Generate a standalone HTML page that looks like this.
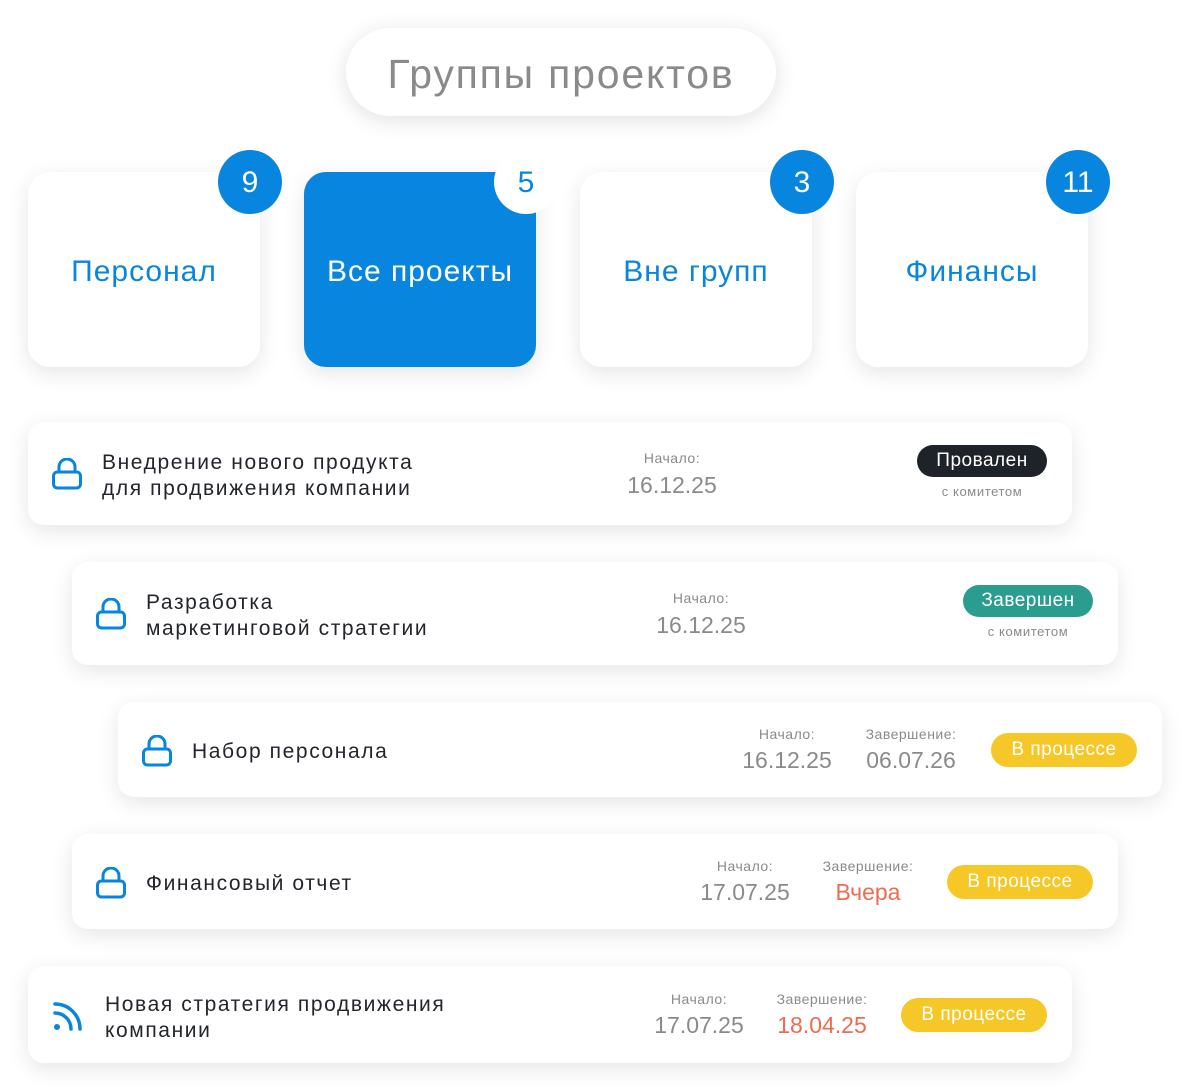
<!DOCTYPE html>
<html><head><meta charset="utf-8"><style>
*{margin:0;padding:0;box-sizing:border-box}
body{width:1184px;height:1087px;background:#fff;position:relative;overflow:hidden;font-family:"Liberation Sans","DejaVu Sans",sans-serif}
.a{position:absolute}
.pill{left:346px;top:28px;width:430px;height:88px;border-radius:44px;background:#fff;box-shadow:0 4px 22px rgba(0,0,0,.12);color:#8a8a8a;font-size:41px;letter-spacing:1.8px;text-align:center;line-height:92px}
.card{width:232px;height:195px;top:172px;border-radius:22px;background:#fff;box-shadow:0 6px 22px rgba(0,0,0,.10);color:#0785df;font-size:30px;letter-spacing:1px;text-align:center;line-height:200px}
.badge{width:64px;height:64px;border-radius:32px;background:#0785df;color:#fff;font-size:30px;text-align:center;line-height:66px;top:150px}
.row{background:#fff;border-radius:16px;box-shadow:0 6px 22px rgba(0,0,0,.10)}
.t{color:#22252b;font-size:21px;line-height:26px;letter-spacing:1.6px}
.lab{color:#8a8a8a;font-size:14px;text-align:center;width:120px;letter-spacing:.5px}
.dt{color:#8a8a8a;font-size:23px;text-align:center;width:130px}
.red{color:#ee6b50}
.st{border-radius:17px;color:#fff;font-size:19px;text-align:center;letter-spacing:.5px}
.sm{color:#8a8a8a;font-size:13px;text-align:center;width:140px;letter-spacing:.6px}
</style></head><body>
<div class="a pill">Группы проектов</div>

<div class="a card" style="left:28px">Персонал</div>
<div class="a card" style="left:304px;background:#0785df;color:#fff">Все проекты</div>
<div class="a card" style="left:580px">Вне групп</div>
<div class="a card" style="left:856px">Финансы</div>
<div class="a badge" style="left:218px">9</div>
<div class="a badge" style="left:494px;background:#fff;color:#0785df">5</div>
<div class="a badge" style="left:770px">3</div>
<div class="a badge" style="left:1046px">11</div>

<svg width="0" height="0" style="position:absolute"><defs>
<g id="lock"><path d="M7 14V9a8 8 0 0 1 16 0v5" fill="none" stroke="#0785df" stroke-width="3"/><rect x="1.5" y="14" width="27" height="16" rx="4" fill="none" stroke="#0785df" stroke-width="3"/></g>
</defs></svg>

<!-- row 1 -->
<div class="a row" style="left:28px;top:422px;width:1044px;height:103px"></div>
<svg class="a" style="left:52px;top:458px" width="32" height="33"><use href="#lock"/></svg>
<div class="a t" style="left:102px;top:450px">Внедрение нового продукта<br>для продвижения компании</div>
<div class="a lab" style="left:612px;top:450px">Начало:</div>
<div class="a dt" style="left:607px;top:472px">16.12.25</div>
<div class="a st" style="left:917px;top:445px;width:130px;height:32px;line-height:32px;background:#1e2229">Провален</div>
<div class="a sm" style="left:912px;top:484px">с комитетом</div>

<!-- row 2 -->
<div class="a row" style="left:72px;top:562px;width:1046px;height:103px"></div>
<svg class="a" style="left:96px;top:598px" width="32" height="33"><use href="#lock"/></svg>
<div class="a t" style="left:146px;top:590px">Разработка<br>маркетинговой стратегии</div>
<div class="a lab" style="left:641px;top:590px">Начало:</div>
<div class="a dt" style="left:636px;top:612px">16.12.25</div>
<div class="a st" style="left:963px;top:585px;width:130px;height:32px;line-height:32px;background:#2a9d8f">Завершен</div>
<div class="a sm" style="left:958px;top:624px">с комитетом</div>

<!-- row 3 -->
<div class="a row" style="left:118px;top:702px;width:1044px;height:95px"></div>
<svg class="a" style="left:142px;top:735px" width="32" height="33"><use href="#lock"/></svg>
<div class="a t" style="left:192px;top:739px">Набор персонала</div>
<div class="a lab" style="left:727px;top:726px">Начало:</div>
<div class="a dt" style="left:722px;top:747px">16.12.25</div>
<div class="a lab" style="left:851px;top:726px">Завершение:</div>
<div class="a dt" style="left:846px;top:747px">06.07.26</div>
<div class="a st" style="left:991px;top:733px;width:146px;height:34px;line-height:34px;background:#f5c827">В процессе</div>

<!-- row 4 -->
<div class="a row" style="left:72px;top:834px;width:1046px;height:95px"></div>
<svg class="a" style="left:96px;top:867px" width="32" height="33"><use href="#lock"/></svg>
<div class="a t" style="left:146px;top:871px">Финансовый отчет</div>
<div class="a lab" style="left:685px;top:858px">Начало:</div>
<div class="a dt" style="left:680px;top:879px">17.07.25</div>
<div class="a lab" style="left:808px;top:858px">Завершение:</div>
<div class="a dt red" style="left:803px;top:879px">Вчера</div>
<div class="a st" style="left:947px;top:865px;width:146px;height:34px;line-height:34px;background:#f5c827">В процессе</div>

<!-- row 5 -->
<div class="a row" style="left:28px;top:966px;width:1044px;height:97px"></div>
<svg class="a" style="left:50px;top:998px" width="36" height="36"><path d="M5 6a25 25 0 0 1 25 25" fill="none" stroke="#0785df" stroke-width="3.5" stroke-linecap="round"/><path d="M5 15a16 16 0 0 1 16 16" fill="none" stroke="#0785df" stroke-width="3.5" stroke-linecap="round"/><circle cx="7" cy="29" r="3" fill="#0785df"/></svg>
<div class="a t" style="left:105px;top:992px">Новая стратегия продвижения<br>компании</div>
<div class="a lab" style="left:639px;top:991px">Начало:</div>
<div class="a dt" style="left:634px;top:1012px">17.07.25</div>
<div class="a lab" style="left:762px;top:991px">Завершение:</div>
<div class="a dt red" style="left:757px;top:1012px">18.04.25</div>
<div class="a st" style="left:901px;top:998px;width:146px;height:34px;line-height:34px;background:#f5c827">В процессе</div>
</body></html>
